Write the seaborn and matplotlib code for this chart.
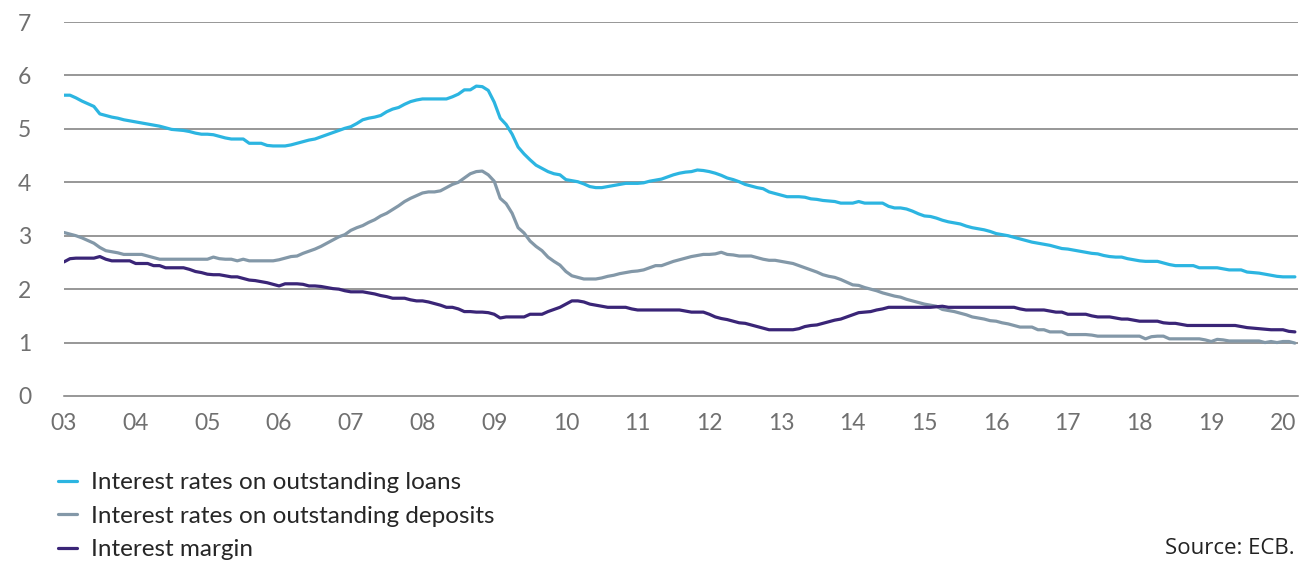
import numpy as np
import pandas as pd
import seaborn as sns
import matplotlib.pyplot as plt

# Monthly values, Jan 2003 .. Mar 2020 (one row per year)
loans = [
    5.63, 5.63, 5.58, 5.52, 5.47, 5.42, 5.28, 5.25, 5.22, 5.20, 5.17, 5.15,
    5.13, 5.11, 5.09, 5.07, 5.05, 5.02, 4.99, 4.98, 4.97, 4.95, 4.92, 4.90,
    4.90, 4.89, 4.86, 4.83, 4.81, 4.81, 4.81, 4.73, 4.73, 4.73, 4.69, 4.68,
    4.68, 4.68, 4.70, 4.73, 4.76, 4.79, 4.81, 4.85, 4.89, 4.93, 4.97, 5.01,
    5.04, 5.10, 5.17, 5.20, 5.22, 5.25, 5.32, 5.37, 5.40, 5.46, 5.51, 5.54,
    5.56, 5.56, 5.56, 5.56, 5.56, 5.60, 5.65, 5.73, 5.73, 5.80, 5.79, 5.72,
    5.50, 5.20, 5.08, 4.90, 4.66, 4.53, 4.42, 4.32, 4.26, 4.20, 4.16, 4.14,
    4.05, 4.03, 4.01, 3.97, 3.92, 3.90, 3.90, 3.92, 3.94, 3.96, 3.98, 3.98,
    3.98, 3.99, 4.02, 4.04, 4.06, 4.10, 4.14, 4.17, 4.19, 4.20, 4.23, 4.22,
    4.20, 4.17, 4.13, 4.08, 4.05, 4.01, 3.96, 3.93, 3.90, 3.88, 3.82, 3.79,
    3.76, 3.73, 3.73, 3.73, 3.72, 3.69, 3.68, 3.66, 3.65, 3.64, 3.61, 3.61,
    3.61, 3.64, 3.61, 3.61, 3.61, 3.61, 3.55, 3.52, 3.52, 3.50, 3.46, 3.41,
    3.37, 3.36, 3.33, 3.29, 3.26, 3.24, 3.22, 3.18, 3.15, 3.13, 3.11, 3.08,
    3.04, 3.02, 3.00, 2.97, 2.94, 2.91, 2.88, 2.86, 2.84, 2.82, 2.79, 2.76,
    2.75, 2.73, 2.71, 2.69, 2.67, 2.66, 2.63, 2.61, 2.60, 2.60, 2.57, 2.55,
    2.53, 2.52, 2.52, 2.52, 2.49, 2.46, 2.44, 2.44, 2.44, 2.44, 2.40, 2.40,
    2.40, 2.40, 2.38, 2.36, 2.36, 2.36, 2.32, 2.31, 2.30, 2.28, 2.26, 2.24,
    2.23, 2.23, 2.23,
]

deposits = [
    3.06, 3.03, 3.00, 2.96, 2.91, 2.86, 2.78, 2.72, 2.70, 2.68, 2.65, 2.65,
    2.65, 2.65, 2.62, 2.59, 2.56, 2.56, 2.56, 2.56, 2.56, 2.56, 2.56, 2.56,
    2.56, 2.60, 2.57, 2.56, 2.56, 2.53, 2.56, 2.53, 2.53, 2.53, 2.53, 2.53,
    2.55, 2.58, 2.61, 2.62, 2.67, 2.71, 2.75, 2.80, 2.86, 2.92, 2.98, 3.02,
    3.10, 3.15, 3.19, 3.25, 3.30, 3.37, 3.42, 3.49, 3.56, 3.64, 3.70, 3.75,
    3.80, 3.82, 3.82, 3.84, 3.90, 3.96, 4.00, 4.08, 4.16, 4.20, 4.21, 4.14,
    4.02, 3.70, 3.60, 3.42, 3.15, 3.05, 2.90, 2.80, 2.72, 2.60, 2.52, 2.45,
    2.33, 2.25, 2.22, 2.19, 2.19, 2.19, 2.21, 2.24, 2.26, 2.29, 2.31, 2.33,
    2.34, 2.36, 2.40, 2.44, 2.44, 2.48, 2.52, 2.55, 2.58, 2.61, 2.63, 2.65,
    2.65, 2.66, 2.69, 2.65, 2.64, 2.62, 2.62, 2.62, 2.59, 2.56, 2.54, 2.54,
    2.52, 2.50, 2.48, 2.44, 2.40, 2.36, 2.32, 2.27, 2.24, 2.22, 2.18, 2.13,
    2.08, 2.07, 2.03, 2.00, 1.97, 1.93, 1.90, 1.87, 1.85, 1.81, 1.78, 1.75,
    1.72, 1.70, 1.68, 1.62, 1.60, 1.58, 1.55, 1.52, 1.48, 1.46, 1.44, 1.41,
    1.40, 1.37, 1.35, 1.32, 1.29, 1.29, 1.29, 1.24, 1.24, 1.20, 1.20, 1.20,
    1.15, 1.15, 1.15, 1.15, 1.14, 1.12, 1.12, 1.12, 1.12, 1.12, 1.12, 1.12,
    1.12, 1.07, 1.11, 1.12, 1.12, 1.07, 1.07, 1.07, 1.07, 1.07, 1.07, 1.05,
    1.02, 1.06, 1.05, 1.03, 1.03, 1.03, 1.03, 1.03, 1.03, 1.00, 1.02, 1.00,
    1.02, 1.02, 0.99,
]

margin = [
    2.51, 2.57, 2.58, 2.58, 2.58, 2.58, 2.61, 2.56, 2.53, 2.53, 2.53, 2.53,
    2.48, 2.48, 2.48, 2.44, 2.44, 2.40, 2.40, 2.40, 2.40, 2.37, 2.33, 2.31,
    2.28, 2.27, 2.27, 2.25, 2.23, 2.23, 2.20, 2.17, 2.16, 2.14, 2.12, 2.09,
    2.06, 2.10, 2.10, 2.10, 2.09, 2.06, 2.06, 2.05, 2.03, 2.01, 2.00, 1.97,
    1.95, 1.95, 1.95, 1.93, 1.91, 1.88, 1.86, 1.83, 1.83, 1.83, 1.80, 1.78,
    1.78, 1.76, 1.73, 1.70, 1.66, 1.66, 1.63, 1.58, 1.58, 1.57, 1.57, 1.56,
    1.53, 1.46, 1.48, 1.48, 1.48, 1.48, 1.53, 1.53, 1.53, 1.58, 1.62, 1.66,
    1.72, 1.78, 1.78, 1.76, 1.72, 1.70, 1.68, 1.66, 1.66, 1.66, 1.66, 1.63,
    1.61, 1.61, 1.61, 1.61, 1.61, 1.61, 1.61, 1.61, 1.59, 1.57, 1.57, 1.57,
    1.53, 1.48, 1.45, 1.43, 1.40, 1.37, 1.36, 1.33, 1.30, 1.27, 1.24, 1.24,
    1.24, 1.24, 1.24, 1.26, 1.30, 1.32, 1.33, 1.36, 1.39, 1.42, 1.44, 1.48,
    1.52, 1.56, 1.57, 1.58, 1.61, 1.63, 1.66, 1.66, 1.66, 1.66, 1.66, 1.66,
    1.66, 1.66, 1.67, 1.68, 1.66, 1.66, 1.66, 1.66, 1.66, 1.66, 1.66, 1.66,
    1.66, 1.66, 1.66, 1.66, 1.63, 1.61, 1.61, 1.61, 1.61, 1.59, 1.57, 1.57,
    1.53, 1.53, 1.53, 1.53, 1.50, 1.48, 1.48, 1.48, 1.46, 1.44, 1.44, 1.42,
    1.40, 1.40, 1.40, 1.40, 1.37, 1.36, 1.36, 1.34, 1.32, 1.32, 1.32, 1.32,
    1.32, 1.32, 1.32, 1.32, 1.32, 1.30, 1.28, 1.27, 1.26, 1.25, 1.24, 1.24,
    1.24, 1.21, 1.20,
]

series_names = [
    "Interest rates on outstanding loans",
    "Interest rates on outstanding deposits",
    "Interest margin",
]
series_colors = ["#2cb5e1", "#8398a8", "#3a2577"]
year_ticks = list(range(2003, 2021))
year_labels = [f"{y % 100:02d}" for y in year_ticks]
y_ticks = list(range(0, 8))

# long-form frame for seaborn
months = np.arange(len(loans))
x_years = 2003 + months / 12
df = pd.concat([
    pd.DataFrame({"date": x_years, "rate": vals, "series": name})
    for name, vals in zip(series_names, [loans, deposits, margin])
], ignore_index=True)

sns.set_style("white")
plt.rcParams['font.family'] = ['Lato', 'DejaVu Sans']

fig = plt.figure(figsize=(13.04, 5.63), dpi=100)
ax = fig.add_axes([64 / 1304, 1 - 396 / 563, (1298 - 64) / 1304, (396 - 22) / 563])

grid_col = "#7b7b7b"
for v in y_ticks[1:]:
    ax.axhline(v, color=grid_col, lw=1.1, zorder=1)

sns.lineplot(data=df, x="date", y="rate", hue="series", hue_order=series_names,
             palette=series_colors, linewidth=2.3, ax=ax, zorder=3, legend=False)

ax.set_xlim(2003, 2020.21)
ax.set_ylim(0, 7)
ax.set_xticks(year_ticks)
ax.set_xticklabels(year_labels)
ax.set_yticks(y_ticks)
ax.set_xlabel("")
ax.set_ylabel("")

for s in ["top", "right", "left"]:
    ax.spines[s].set_visible(False)
ax.spines["bottom"].set_color(grid_col)
ax.spines["bottom"].set_linewidth(1.1)

ax.tick_params(axis="x", direction="out", length=6.5, width=1.1, color=grid_col,
               labelsize=16.5, labelcolor="#707070", pad=6)
ax.tick_params(axis="y", length=0, labelsize=16.5, labelcolor="#707070", pad=23.5)

handles = [plt.Line2D([], [], color=c, lw=2.3) for c in series_colors]
fig.legend(handles, series_names, loc="upper left", bbox_to_anchor=(58 / 1304, 1 - 472 / 563),
           frameon=False, fontsize=17.5, handlelength=0.8, handletextpad=0.55,
           labelspacing=0.52, borderaxespad=0, borderpad=0)

fig.text(1295 / 1304, 1 - 548 / 563, "Source: ECB.", ha="right", va="center",
         fontsize=16, color="#222222", family=["Open Sans", "DejaVu Sans"])

fig.savefig("out.png", dpi=100)
